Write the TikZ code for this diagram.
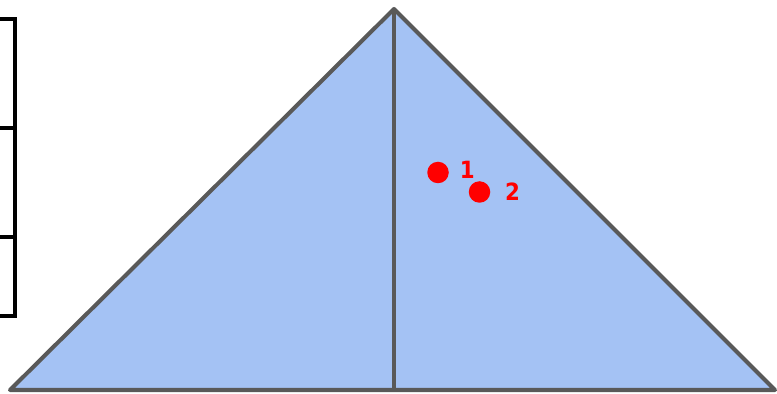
\documentclass[tikz,border=0pt]{standalone}
\usepackage{fontspec}
\setmainfont{DejaVu Sans Condensed}
\usetikzlibrary{positioning}
\definecolor{vlak}{HTML}{A4C2F4}
\definecolor{rand}{HTML}{595959}
\definecolor{punt}{HTML}{FF0000}
\begin{document}
\begin{tikzpicture}[x=0.02cm, y=-0.02cm,
    zijde/.style={draw=rand, line width=2.3pt, line join=round},
    stip/.style={circle, fill=punt, inner sep=0pt, minimum size=0.43cm},
    nummer/.style={text=punt, font=\bfseries\fontsize{13.5}{15}\selectfont, inner sep=0pt}]

  \useasboundingbox (0,0) rectangle (777,394);

  % Driehoek
  \coordinate (top) at (394,9);
  \coordinate (bl) at (10,390);
  \coordinate (br) at (775,390);
  \coordinate (voet) at (394,390);

  \fill[vlak] (top) -- (bl) -- (br) -- cycle;
  \draw[zijde] (top) -- (bl) -- (br) -- cycle;
  \draw[zijde] (top) -- (voet);

  % Schaalstreep links
  \coordinate (s0) at (0,19);
  \coordinate (s1) at (0,128);
  \coordinate (s2) at (0,237);
  \coordinate (s3) at (0,316);

  \draw[line width=2.2pt] (s0) -- (15,19) -- (15,316) -- (s3);
  \draw[line width=2.2pt] (s1) -- (15,128);
  \draw[line width=2.2pt] (s2) -- (15,237);

  % Punten
  \node[stip] (p1) at (438,172.5) {};
  \node[stip] (p2) at (479.5,192) {};
  \node[nummer, right=6pt of p1, yshift=1.5pt] (n1) {1};
  \node[nummer, right=8pt of p2] (n2) {2};

\end{tikzpicture}
\end{document}
